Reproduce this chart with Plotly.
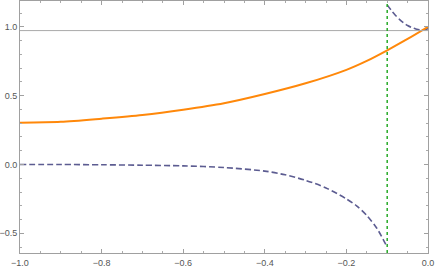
import plotly.graph_objects as go

# Orange solid curve
orange_x = [-1.0, -0.9, -0.8, -0.7, -0.6, -0.5, -0.4, -0.3, -0.2, -0.15, -0.1, -0.05, 0.0]
orange_y = [0.304, 0.31, 0.333, 0.36, 0.398, 0.445, 0.512, 0.59, 0.688, 0.753, 0.83, 0.912, 1.0]

# Dashed curve, lower branch (x < -0.1)
dash_lo_x = [-1.0, -0.9, -0.8, -0.7, -0.6, -0.5, -0.4, -0.35, -0.3, -0.25, -0.2, -0.175, -0.15, -0.125, -0.1]
dash_lo_y = [0.0, 0.0, -0.002, -0.005, -0.01, -0.022, -0.048, -0.075, -0.115, -0.17, -0.25, -0.3, -0.37, -0.465, -0.6]

# Dashed curve, upper branch (x > -0.1)
dash_hi_x = [-0.1, -0.09, -0.08, -0.07, -0.06, -0.05, -0.04, -0.03, -0.02, -0.01, 0.0]
dash_hi_y = [1.16, 1.12, 1.085, 1.055, 1.03, 1.01, 0.995, 0.985, 0.978, 0.978, 0.988]

h_level = 0.973
v_pos = -0.1

x_ticks = [-1.0, -0.8, -0.6, -0.4, -0.2, 0.0]
y_ticks = [-0.5, 0.0, 0.5, 1.0]

dash_color = "rgb(92,92,145)"
orange = "rgb(255,136,10)"

fig = go.Figure()
fig.add_trace(go.Scatter(x=dash_lo_x, y=dash_lo_y, mode="lines",
                         line=dict(color=dash_color, width=1.6, dash="6px,3px", shape="spline", smoothing=0.8)))
fig.add_trace(go.Scatter(x=dash_hi_x, y=dash_hi_y, mode="lines",
                         line=dict(color=dash_color, width=1.6, dash="6px,3px", shape="spline", smoothing=0.8)))
fig.add_trace(go.Scatter(x=orange_x, y=orange_y, mode="lines",
                         line=dict(color=orange, width=2, shape="spline", smoothing=0.8)))
fig.add_hline(y=h_level, line=dict(color="rgb(170,170,170)", width=1))
fig.add_vline(x=v_pos, line=dict(color="rgb(40,170,40)", width=1.5, dash="dot"))

axis_common = dict(
    showgrid=False, zeroline=False, showline=True, linecolor="rgb(160,160,160)", linewidth=1,
    mirror="ticks", ticks="inside", ticklen=4, tickcolor="rgb(160,160,160)",
    tickfont=dict(family="Liberation Sans, Arial, sans-serif", size=9, color="rgb(85,85,85)"),
    tickformat=".1f", automargin=False,
)
fig.update_xaxes(range=[-1.0, 0.0], tickvals=x_ticks, ticklabelstandoff=1,
                 minor=dict(dtick=0.05, tick0=0, ticks="inside", ticklen=2, tickcolor="rgb(170,170,170)"),
                 **axis_common)
fig.update_yaxes(range=[-0.643, 1.188], tickvals=y_ticks, ticklabelstandoff=0,
                 minor=dict(dtick=0.1, tick0=0, ticks="inside", ticklen=2, tickcolor="rgb(170,170,170)"),
                 **axis_common)
fig.update_layout(width=436, height=267, margin=dict(l=20, r=8, t=1, b=14),
                  plot_bgcolor="white", paper_bgcolor="white", showlegend=False)
fig.write_html("out.html", config={"displayModeBar": False},
               post_script="document.body.style.margin='0px';document.body.style.overflow='hidden';")
